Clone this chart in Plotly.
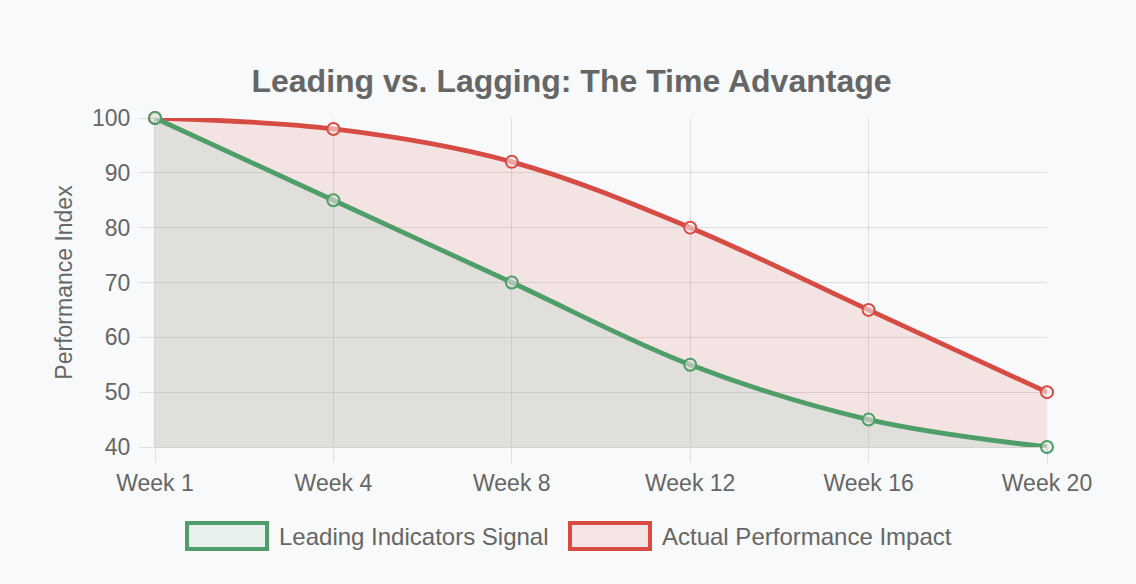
import plotly.graph_objects as go

weeks = ["Week 1", "Week 4", "Week 8", "Week 12", "Week 16", "Week 20"]
leading = [100, 85, 70, 55, 45, 40]
actual = [100, 98, 92, 80, 65, 50]
series_names = ["Leading Indicators Signal", "Actual Performance Impact"]
title_text = "Leading vs. Lagging: The Time Advantage"
y_title = "Performance Index"

W, H = 1136, 584
L, R, T, B = 155, 89, 118, 137
PW, PH = W - L - R, H - T - B
FONT = "Liberation Sans, Arial, Helvetica, sans-serif"
TXT = "#666666"
BG = "#f8f9fa"
GREEN = "#4f9d69"
RED = "#d64c45"
GREEN_FILL = "rgba(150,208,188,0.2)"
RED_FILL = "rgba(223,74,67,0.12)"
GRID = "rgba(0,0,0,0.1)"

def px_x(p):
    return (p - L) / PW

def px_y(p):
    return (H - B - p) / PH

fig = go.Figure()
fig.add_trace(go.Scatter(
    x=weeks, y=actual, name=series_names[1], mode="lines+markers",
    line=dict(color=RED, width=4.8, shape="spline", smoothing=1.0),
    marker=dict(symbol="circle", size=12, color="rgba(245,228,228,0.6)",
                line=dict(color=RED, width=2)),
    fill="tozeroy", fillcolor=RED_FILL, cliponaxis=False, showlegend=False,
))
fig.add_trace(go.Scatter(
    x=weeks, y=leading, name=series_names[0], mode="lines+markers",
    line=dict(color=GREEN, width=4.8, shape="spline", smoothing=1.0),
    marker=dict(symbol="circle", size=12, color="rgba(226,224,220,0.6)",
                line=dict(color=GREEN, width=2)),
    fill="tozeroy", fillcolor=GREEN_FILL, cliponaxis=False, showlegend=False,
))

# Chart.js-style legend boxes
shapes = []
annotations = []
legend_items = [
    (series_names[0], GREEN, "#e8f0ec", 187, 267, 279),
    (series_names[1], RED, "#f5e3e5", 570, 650, 662),
]
for name, col, fillc, x0, x1, tx in legend_items:
    shapes.append(dict(type="rect", xref="paper", yref="paper",
                       x0=px_x(x0), x1=px_x(x1), y0=px_y(549), y1=px_y(523),
                       line=dict(color=col, width=4), fillcolor=fillc, layer="above"))
    annotations.append(dict(text=name, xref="paper", yref="paper",
                            x=px_x(tx - 2), y=px_y(536), xanchor="left", yanchor="middle",
                            showarrow=False, font=dict(family=FONT, size=24, color=TXT)))

fig.update_layout(
    width=W, height=H, autosize=False,
    margin=dict(l=L, r=R, t=T, b=B, pad=0),
    paper_bgcolor=BG, plot_bgcolor=BG,
    font=dict(family=FONT, size=23, color=TXT),
    title=dict(text="<b>" + title_text + "</b>", x=571.5 / W, xanchor="center",
               xref="container", yref="container", y=1 - 81 / H, yanchor="middle",
               font=dict(family=FONT, size=32, color=TXT)),
    showlegend=False,
    shapes=shapes, annotations=annotations,
    xaxis=dict(type="category", categoryorder="array", categoryarray=weeks,
               range=[0, len(weeks) - 1], showgrid=True, gridcolor=GRID, gridwidth=1,
               ticks="outside", ticklen=15, tickcolor=GRID, tickwidth=1,
               showline=True, linecolor="rgba(0,0,0,0.15)", linewidth=1,
               zeroline=False, tickfont=dict(family=FONT, size=23, color=TXT)),
    yaxis=dict(range=[40, 100], dtick=10, tick0=40, showgrid=True, gridcolor=GRID,
               ticks="outside", ticklen=15, tickcolor=GRID, tickwidth=1,
               ticklabelstandoff=4,
               showline=True, linecolor="rgba(0,0,0,0.15)", linewidth=1,
               zeroline=False, tickfont=dict(family=FONT, size=23, color=TXT),
               title=dict(text=y_title, standoff=12,
                          font=dict(family=FONT, size=23, color=TXT))),
)

fig.write_html(
    "out.html",
    config={"displayModeBar": False},
    post_script="document.body.style.margin='0';document.body.style.background='" + BG + "';",
)
